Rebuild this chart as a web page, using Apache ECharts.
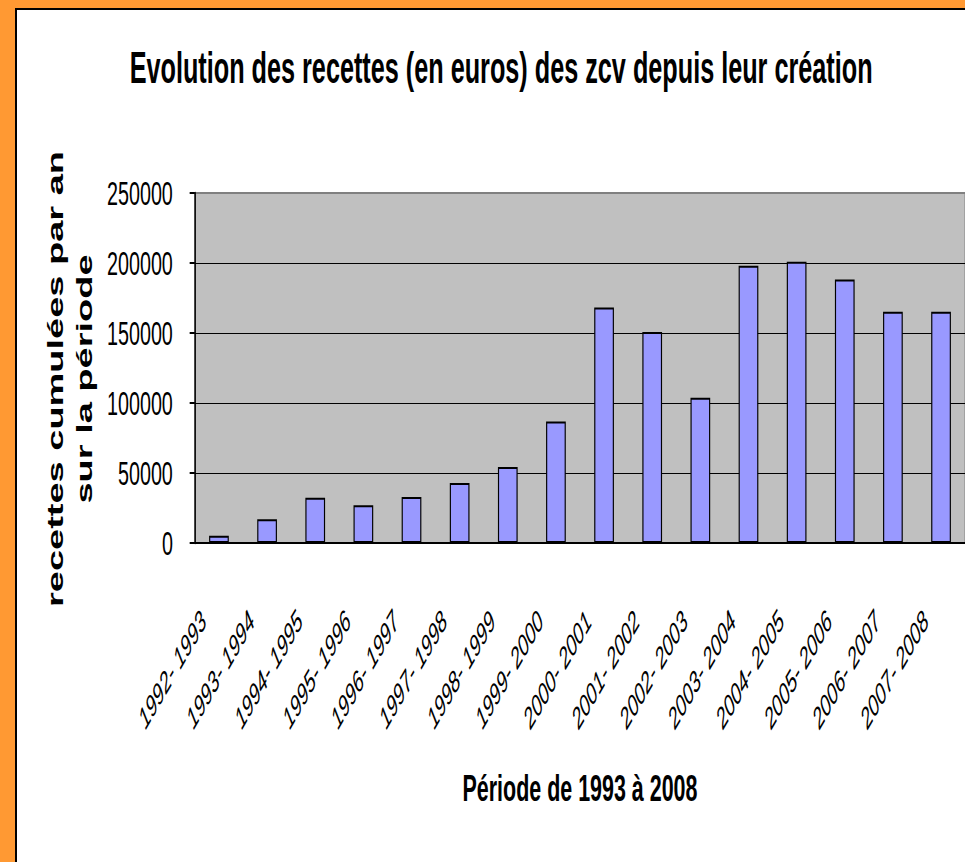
<!DOCTYPE html>
<html>
<head>
<meta charset="utf-8">
<script src="https://cdn.jsdelivr.net/npm/echarts@6/dist/echarts.min.js"></script>
<style>
  html, body { margin: 0; padding: 0; width: 965px; height: 862px; overflow: hidden; background: #FF9933; }
  #frame { position: absolute; left: 15px; top: 8px; width: 1000px; height: 900px;
           background: #fff; border-left: 2px solid #000; border-top: 2px solid #000; }
  /* le graphique d'origine est comprimé horizontalement */
  #chart { position: absolute; left: 0; top: 0; width: 1664px; height: 862px;
           transform: scaleX(0.58); transform-origin: 0 0; }
</style>
</head>
<body>
<div id="frame"></div>
<div id="chart"></div>
<script>
const titre = 'Evolution des recettes (en euros) des zcv depuis leur création';
const nomAxeX = 'Période de 1993 à 2008';
const nomAxeY = 'recettes cumulées par an\nsur la période';
const periodes = ['1992- 1993', '1993- 1994', '1994- 1995', '1995- 1996', '1996- 1997', '1997- 1998',
  '1998- 1999', '1999- 2000', '2000- 2001', '2001- 2002', '2002- 2003', '2003- 2004',
  '2004- 2005', '2005- 2006', '2006- 2007', '2007- 2008'];
const recettes = [5200, 16900, 32400, 26900, 32800, 42800, 54300, 86800,
  168300, 150700, 103800, 198100, 200900, 188300, 165200, 165200];
const graduationsY = [0, 50000, 100000, 150000, 200000, 250000];

const police = '"Liberation Sans", Arial, sans-serif';
let myChart = echarts.init(document.getElementById('chart'), null, { renderer: 'svg' });
let option = {
  animation: false,
  title: {
    text: titre,
    left: 859,
    top: 41,
    textAlign: 'center',
    textStyle: { fontFamily: police, fontSize: 43.5, fontWeight: 'bold', color: '#000' }
  },
  grid: {
    left: 336,
    top: 193,
    width: 1332,
    height: 350,
    show: true,
    backgroundColor: '#C0C0C0',
    borderColor: '#808080',
    borderWidth: 2
  },
  xAxis: {
    type: 'category',
    data: periodes,
    name: nomAxeX,
    nameLocation: 'middle',
    nameGap: 227,
    nameTextStyle: { fontFamily: police, fontSize: 37, fontWeight: 'bold', color: '#000', verticalAlign: 'top' },
    axisLine: { lineStyle: { color: '#000', width: 2 } },
    axisTick: { length: 10, lineStyle: { color: '#000', width: 2.5 } },
    axisLabel: {
      interval: 0,
      rotate: 45,
      margin: 46,
      padding: [0, 38, 0, 0],
      fontFamily: police,
      fontSize: 30,
      fontStyle: 'italic',
      color: '#000'
    }
  },
  yAxis: {
    type: 'value',
    min: graduationsY[0],
    max: graduationsY[graduationsY.length - 1],
    interval: 50000,
    name: nomAxeY,
    nameLocation: 'middle',
    nameGap: 166,
    nameTextStyle: {
      fontFamily: police, fontSize: 38, fontWeight: 'bold', color: '#000',
      lineHeight: 49, align: 'center', padding: [0, 22, 0, 0]
    },
    axisLine: { show: true, lineStyle: { color: '#000', width: 2.5 } },
    axisTick: { show: true, length: 9, lineStyle: { color: '#000', width: 2 } },
    axisLabel: {
      margin: 38,
      fontFamily: police,
      fontSize: 34,
      color: '#000',
      formatter: v => String(v)
    },
    splitLine: { show: true, showMaxLine: false, lineStyle: { color: '#000', width: 1.2 } }
  },
  series: [
    {
      type: 'bar',
      data: recettes,
      barWidth: 34,
      itemStyle: { color: '#9999FF', borderColor: '#000', borderWidth: 2 }
    }
  ]
};
myChart.setOption(option);
</script>
</body>
</html>
